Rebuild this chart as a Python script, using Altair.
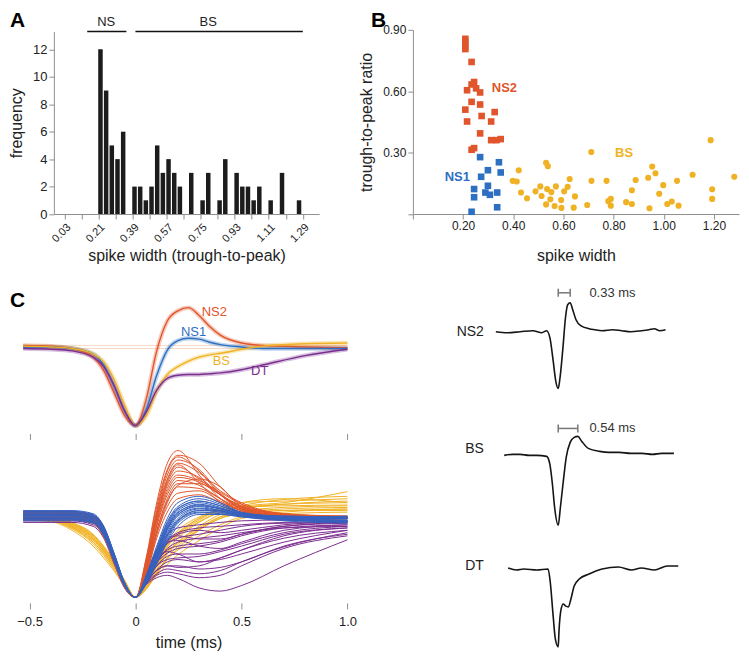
import altair as alt
import pandas as pd

FONT = "Liberation Sans"
CLASSES = ["NS2", "NS1", "BS", "DT"]
COLORS = ["#E0552B", "#2D6FC1", "#F0B225", "#7B2D90"]
TRACE_COLORS = {"NS2": "#E0552B", "NS1": "#3560BE", "BS": "#F0B225", "DT": "#7B2D90"}

# ---------------- Panel A : histogram ----------------
hist_width = [0.22, 0.25, 0.28, 0.31, 0.34, 0.40, 0.43, 0.46, 0.49, 0.52, 0.55, 0.58, 0.61, 0.64,
              0.70, 0.76, 0.79, 0.85, 0.88, 0.94, 0.97, 1.00, 1.03, 1.06, 1.12, 1.18, 1.27]
hist_count = [12, 9, 5, 4, 6, 2, 2, 1, 2, 5, 3, 4, 3, 2,
              3, 1, 3, 1, 4, 3, 2, 2, 1, 2, 1, 3, 1]
hist_ticks = [0.03, 0.12, 0.21, 0.30, 0.39, 0.48, 0.57, 0.66, 0.75, 0.84, 0.93, 1.02, 1.11, 1.20, 1.29]
freq_ticks = [0, 2, 4, 6, 8, 10, 12]
group_names = ["NS", "BS"]
group_start = [0.15, 0.405]
group_end = [0.357, 1.29]
group_mid = [0.25, 0.79]
group_level = [13.3, 13.3]

# ---------------- Panel B : scatter ----------------
ns2_w = [0.209, 0.209, 0.209, 0.209, 0.234, 0.216, 0.234, 0.244, 0.252, 0.268, 0.234, 0.268,
         0.209, 0.326, 0.216, 0.274, 0.312, 0.268, 0.312, 0.333, 0.350, 0.234, 0.244]
ns2_r = [0.856, 0.840, 0.820, 0.806, 0.743, 0.605, 0.633, 0.645, 0.614, 0.594, 0.548, 0.535,
         0.510, 0.498, 0.452, 0.479, 0.452, 0.394, 0.361, 0.361, 0.366, 0.314, 0.322]
ns1_w = [0.268, 0.343, 0.299, 0.350, 0.272, 0.244, 0.299, 0.289, 0.307, 0.336, 0.244, 0.336, 0.234]
ns1_r = [0.278, 0.253, 0.214, 0.203, 0.182, 0.122, 0.138, 0.105, 0.094, 0.105, 0.082, 0.033, 0.011]
bs_w = [0.711, 1.187, 0.531, 0.538, 0.422, 0.398, 0.414, 0.431, 0.455, 0.489, 0.508, 0.513, 0.535,
        0.531, 0.548, 0.552, 0.570, 0.565, 0.591, 0.592, 0.603, 0.617, 0.625, 0.646, 0.641, 0.695,
        0.712, 0.772, 0.779, 0.789, 0.789, 0.850, 0.873, 0.873, 0.888, 0.938, 0.954, 0.967, 0.943,
        0.982, 0.998, 1.014, 1.032, 1.053, 1.059, 1.115, 1.193, 1.193, 1.281]
bs_r = [0.303, 0.361, 0.250, 0.234, 0.214, 0.162, 0.159, 0.105, 0.077, 0.111, 0.135, 0.088, 0.122,
        0.047, 0.072, 0.107, 0.135, 0.039, 0.068, 0.030, 0.111, 0.133, 0.171, 0.086, 0.031, 0.044,
        0.162, 0.162, 0.063, 0.074, 0.041, 0.058, 0.049, 0.116, 0.166, 0.177, 0.232, 0.199, 0.028,
        0.099, 0.141, 0.049, 0.061, 0.162, 0.041, 0.192, 0.121, 0.074, 0.182]
b_label = ["NS2", "NS1", "BS"]
b_label_w = [0.365, 0.177, 0.842]
b_label_r = [0.614, 0.180, 0.298]
b_xticks = [0, 0.2, 0.4, 0.6, 0.8, 1.0, 1.2]
b_yticks = [0, 0.3, 0.6, 0.9]

# ---------------- Panel C : mean waveforms ----------------
mean_t = [-0.53, -0.4, -0.3, -0.2, -0.15, -0.1, -0.05, 0, 0.05, 0.1, 0.15, 0.2, 0.25, 0.3,
          0.35, 0.4, 0.5, 0.6, 0.8, 1.0]
mean_ns2 = [0.02, 0.01, -0.02, -0.13, -0.30, -0.59, -0.88, -1.0, -0.67, -0.05, 0.33, 0.46, 0.50, 0.40,
            0.26, 0.15, 0.05, 0.02, 0.0, -0.01]
mean_ns1 = [0.0, 0.0, -0.02, -0.09, -0.23, -0.50, -0.82, -1.0, -0.80, -0.36, -0.04, 0.08, 0.11, 0.10,
            0.06, 0.03, 0.0, -0.02, -0.02, -0.02]
mean_bs = [0.01, 0.0, -0.02, -0.09, -0.19, -0.42, -0.75, -1.0, -0.88, -0.56, -0.35, -0.25, -0.18, -0.13,
           -0.10, -0.08, -0.03, 0.01, 0.04, 0.05]
mean_dt = [-0.02, -0.03, -0.05, -0.13, -0.25, -0.50, -0.82, -1.0, -0.83, -0.55, -0.40, -0.36, -0.35, -0.35,
           -0.34, -0.33, -0.29, -0.23, -0.11, -0.03]
mean_label = ["NS2", "NS1", "BS", "DT"]
mean_label_t = [0.372, 0.274, 0.405, 0.586]
mean_label_v = [0.45, 0.19, -0.175, -0.31]
baseline_v = [0.02, -0.02]
baseline_t0 = [-0.53, -0.53]
baseline_t1 = [1.0, 1.0]
time_ticks = [-0.5, 0, 0.5, 1.0]

# ---------------- Panel C : individual waveforms ----------------
trace_t = [-0.53, -0.4, -0.3, -0.2, -0.15, -0.1, -0.05, 0, 0.05, 0.1, 0.15, 0.2, 0.3, 0.4, 0.5, 0.7, 1.0]
traces_ns2 = [
    [0.08, 0.08, 0.08, 0.02, -0.15, -0.5, -0.85, -1, -0.5, 0.2, 0.7, 0.86, 0.55, 0.25, 0.1, 0.02, 0.0],
    [0.05, 0.05, 0.05, 0.0, -0.18, -0.52, -0.86, -1, -0.55, 0.1, 0.6, 0.78, 0.6, 0.3, 0.12, 0.03, 0.02],
    [0.03, 0.03, 0.03, -0.03, -0.2, -0.55, -0.87, -1, -0.6, 0.0, 0.45, 0.65, 0.5, 0.3, 0.15, 0.05, 0.03],
    [0.0, 0.0, 0.0, -0.05, -0.22, -0.55, -0.88, -1, -0.62, -0.05, 0.38, 0.55, 0.48, 0.33, 0.18, 0.06, 0.02],
    [0.06, 0.06, 0.05, 0.0, -0.17, -0.5, -0.85, -1, -0.65, -0.1, 0.3, 0.48, 0.42, 0.25, 0.1, 0.03, 0.0],
    [0.02, 0.02, 0.02, -0.04, -0.2, -0.53, -0.87, -1, -0.68, -0.15, 0.22, 0.4, 0.38, 0.25, 0.12, 0.04, 0.02],
    [0.04, 0.04, 0.04, -0.02, -0.19, -0.52, -0.86, -1, -0.7, -0.2, 0.15, 0.32, 0.35, 0.22, 0.1, 0.02, -0.02],
    [-0.02, -0.02, -0.02, -0.06, -0.24, -0.56, -0.88, -1, -0.72, -0.25, 0.08, 0.25, 0.3, 0.2, 0.1, 0.02, 0.0],
    [0.03, 0.03, 0.03, -0.03, -0.2, -0.53, -0.87, -1, -0.7, -0.2, 0.2, 0.42, 0.5, 0.4, 0.15, 0.02, 0.0],
    [0.07, 0.07, 0.06, 0.01, -0.16, -0.5, -0.85, -1, -0.52, 0.15, 0.62, 0.8, 0.7, 0.4, 0.18, 0.05, 0.01],
    [0.01, 0.01, 0.01, -0.05, -0.21, -0.54, -0.87, -1, -0.58, 0.05, 0.5, 0.7, 0.58, 0.35, 0.2, 0.06, 0.03],
    [0.05, 0.05, 0.04, -0.01, -0.18, -0.52, -0.86, -1, -0.56, 0.08, 0.55, 0.74, 0.62, 0.32, 0.14, 0.04, 0.01],
    [0.02, 0.02, 0.02, -0.04, -0.21, -0.54, -0.87, -1, -0.63, -0.02, 0.42, 0.6, 0.52, 0.3, 0.13, 0.03, 0.0],
    [0.06, 0.06, 0.06, 0.0, -0.17, -0.51, -0.86, -1, -0.6, 0.02, 0.48, 0.68, 0.45, 0.2, 0.08, 0.02, 0.02],
    [0.0, 0.0, 0.0, -0.06, -0.23, -0.56, -0.88, -1, -0.66, -0.08, 0.34, 0.52, 0.46, 0.3, 0.16, 0.05, 0.01],
    [0.04, 0.04, 0.04, -0.01, -0.18, -0.52, -0.86, -1, -0.69, -0.16, 0.25, 0.44, 0.44, 0.3, 0.12, 0.03, 0.0],
]
traces_ns1 = [
    [0.1, 0.1, 0.1, 0.06, -0.1, -0.45, -0.82, -1, -0.72, -0.35, 0.0, 0.2, 0.28, 0.2, 0.08, 0.02, 0.0],
    [0.07, 0.07, 0.07, 0.03, -0.12, -0.47, -0.83, -1, -0.75, -0.4, -0.08, 0.12, 0.22, 0.16, 0.06, 0.0, -0.02],
    [0.04, 0.04, 0.04, 0.0, -0.15, -0.5, -0.84, -1, -0.78, -0.45, -0.12, 0.08, 0.17, 0.12, 0.05, 0.0, 0.0],
    [0.02, 0.02, 0.02, -0.02, -0.18, -0.52, -0.85, -1, -0.8, -0.5, -0.18, 0.03, 0.13, 0.1, 0.04, -0.01, -0.03],
    [0.0, 0.0, 0.0, -0.04, -0.2, -0.54, -0.86, -1, -0.82, -0.55, -0.25, -0.04, 0.1, 0.08, 0.03, -0.02, -0.04],
    [0.05, 0.05, 0.05, 0.01, -0.14, -0.49, -0.84, -1, -0.76, -0.42, -0.1, 0.1, 0.2, 0.14, 0.05, 0.01, 0.03],
    [-0.03, -0.03, -0.03, -0.06, -0.22, -0.55, -0.87, -1, -0.83, -0.58, -0.3, -0.1, 0.05, 0.05, 0.02, -0.03, -0.06],
    [0.08, 0.08, 0.08, 0.04, -0.11, -0.46, -0.83, -1, -0.73, -0.38, -0.04, 0.15, 0.25, 0.18, 0.07, 0.01, 0.01],
    [0.03, 0.03, 0.03, -0.01, -0.16, -0.51, -0.85, -1, -0.79, -0.48, -0.15, 0.05, 0.15, 0.1, 0.04, 0.02, 0.0],
    [-0.01, -0.01, -0.01, -0.05, -0.21, -0.54, -0.86, -1, -0.81, -0.52, -0.22, -0.02, 0.1, 0.1, 0.05, -0.01, -0.05],
    [0.06, 0.06, 0.06, 0.02, -0.13, -0.48, -0.84, -1, -0.77, -0.44, -0.12, 0.07, 0.18, 0.13, 0.06, 0.03, 0.02],
    [0.01, 0.01, 0.01, -0.03, -0.18, -0.52, -0.85, -1, -0.8, -0.5, -0.2, 0.0, 0.12, 0.09, 0.04, 0.0, -0.02],
    [0.09, 0.09, 0.09, 0.05, -0.1, -0.45, -0.82, -1, -0.74, -0.4, -0.06, 0.13, 0.22, 0.16, 0.07, 0.03, 0.02],
    [-0.02, -0.02, -0.02, -0.05, -0.2, -0.54, -0.86, -1, -0.82, -0.56, -0.28, -0.06, 0.07, 0.07, 0.03, -0.02, -0.04],
    [0.04, 0.04, 0.04, 0.0, -0.15, -0.5, -0.84, -1, -0.78, -0.46, -0.14, 0.05, 0.16, 0.12, 0.06, 0.02, 0.01],
    [0.0, 0.0, 0.0, -0.04, -0.19, -0.53, -0.86, -1, -0.8, -0.52, -0.22, -0.03, 0.08, 0.06, 0.02, -0.01, -0.03],
]
traces_bs = [
    [0.02, 0.0, -0.1, -0.28, -0.42, -0.6, -0.82, -1, -0.85, -0.6, -0.4, -0.25, -0.05, 0.08, 0.15, 0.2, 0.34],
    [0.0, -0.02, -0.12, -0.3, -0.45, -0.63, -0.84, -1, -0.88, -0.65, -0.45, -0.3, -0.1, 0.05, 0.12, 0.18, 0.22],
    [0.04, 0.02, -0.08, -0.25, -0.4, -0.58, -0.8, -1, -0.82, -0.55, -0.32, -0.18, 0.0, 0.1, 0.14, 0.16, 0.17],
    [-0.02, -0.04, -0.15, -0.35, -0.5, -0.67, -0.86, -1, -0.9, -0.7, -0.52, -0.38, -0.15, 0.0, 0.08, 0.12, 0.14],
    [0.03, 0.02, -0.06, -0.22, -0.36, -0.55, -0.8, -1, -0.85, -0.6, -0.42, -0.3, -0.12, 0.02, 0.07, 0.1, 0.1],
    [0.01, -0.01, -0.1, -0.27, -0.42, -0.6, -0.82, -1, -0.87, -0.68, -0.5, -0.4, -0.22, -0.08, 0.02, 0.08, 0.12],
    [0.05, 0.03, -0.05, -0.2, -0.35, -0.55, -0.79, -1, -0.8, -0.5, -0.3, -0.15, 0.02, 0.12, 0.2, 0.25, 0.2],
    [0.0, -0.02, -0.11, -0.3, -0.44, -0.62, -0.83, -1, -0.88, -0.72, -0.58, -0.46, -0.28, -0.12, 0.0, 0.06, 0.08],
    [0.02, 0.0, -0.09, -0.26, -0.41, -0.6, -0.82, -1, -0.84, -0.58, -0.36, -0.2, 0.0, 0.12, 0.2, 0.22, 0.25],
    [0.03, 0.01, -0.07, -0.23, -0.38, -0.57, -0.8, -1, -0.83, -0.57, -0.35, -0.22, -0.04, 0.08, 0.16, 0.24, 0.28],
    [-0.01, -0.03, -0.13, -0.32, -0.47, -0.65, -0.85, -1, -0.89, -0.7, -0.5, -0.35, -0.14, 0.02, 0.09, 0.14, 0.16],
    [0.02, 0.0, -0.08, -0.24, -0.39, -0.58, -0.81, -1, -0.84, -0.62, -0.44, -0.32, -0.14, 0.0, 0.06, 0.1, 0.12],
    [0.04, 0.02, -0.06, -0.21, -0.37, -0.56, -0.8, -1, -0.82, -0.56, -0.33, -0.2, -0.02, 0.1, 0.14, 0.18, 0.2],
]
traces_dt = [
    [0.08, 0.08, 0.08, 0.03, -0.12, -0.47, -0.83, -1, -0.7, -0.4, -0.2, -0.12, -0.08, -0.05, -0.03, -0.02, -0.03],
    [0.05, 0.05, 0.05, 0.0, -0.15, -0.5, -0.85, -1, -0.75, -0.5, -0.32, -0.25, -0.2, -0.15, -0.1, -0.06, -0.05],
    [0.02, 0.02, 0.02, -0.03, -0.18, -0.52, -0.86, -1, -0.78, -0.55, -0.4, -0.35, -0.32, -0.28, -0.2, -0.1, -0.06],
    [0.0, 0.0, 0.0, -0.05, -0.2, -0.54, -0.87, -1, -0.8, -0.6, -0.48, -0.45, -0.45, -0.4, -0.32, -0.18, -0.1],
    [-0.03, -0.03, -0.03, -0.08, -0.22, -0.56, -0.88, -1, -0.82, -0.65, -0.55, -0.52, -0.55, -0.52, -0.45, -0.3, -0.15],
    [0.06, 0.06, 0.06, 0.02, -0.14, -0.48, -0.84, -1, -0.8, -0.66, -0.6, -0.6, -0.64, -0.62, -0.55, -0.35, -0.2],
    [0.03, 0.03, 0.03, -0.02, -0.17, -0.51, -0.85, -1, -0.83, -0.72, -0.68, -0.7, -0.75, -0.72, -0.6, -0.38, -0.22],
    [-0.05, -0.05, -0.05, -0.1, -0.25, -0.58, -0.89, -1, -0.84, -0.75, -0.72, -0.76, -0.88, -0.92, -0.85, -0.6, -0.27],
    [0.04, 0.04, 0.04, -0.01, -0.16, -0.5, -0.85, -1, -0.72, -0.45, -0.3, -0.28, -0.35, -0.38, -0.3, -0.15, -0.08],
    [0.01, 0.01, 0.01, -0.04, -0.19, -0.53, -0.86, -1, -0.76, -0.52, -0.42, -0.45, -0.55, -0.5, -0.4, -0.22, -0.12],
    [0.07, 0.07, 0.07, 0.02, -0.13, -0.48, -0.84, -1, -0.74, -0.48, -0.3, -0.2, -0.15, -0.18, -0.15, -0.08, -0.04],
    [0.06, 0.06, 0.06, 0.01, -0.14, -0.49, -0.84, -1, -0.73, -0.46, -0.28, -0.18, -0.12, -0.1, -0.08, -0.05, -0.04],
    [0.09, 0.09, 0.09, 0.04, -0.11, -0.46, -0.83, -1, -0.77, -0.56, -0.44, -0.38, -0.35, -0.3, -0.22, -0.12, -0.08],
    [-0.01, -0.01, -0.01, -0.06, -0.21, -0.55, -0.87, -1, -0.79, -0.6, -0.52, -0.5, -0.48, -0.42, -0.35, -0.2, -0.12],
    [0.03, 0.03, 0.03, -0.02, -0.17, -0.51, -0.85, -1, -0.81, -0.66, -0.6, -0.62, -0.6, -0.5, -0.4, -0.25, -0.15],
    [0.05, 0.05, 0.05, 0.0, -0.15, -0.5, -0.85, -1, -0.76, -0.55, -0.38, -0.3, -0.25, -0.22, -0.18, -0.12, -0.1],
    [0.02, 0.02, 0.02, -0.03, -0.18, -0.52, -0.86, -1, -0.82, -0.7, -0.64, -0.66, -0.7, -0.66, -0.55, -0.36, -0.18],
    [0.07, 0.07, 0.07, 0.02, -0.13, -0.48, -0.84, -1, -0.72, -0.44, -0.26, -0.22, -0.26, -0.26, -0.2, -0.1, -0.05],
]

# ---------------- Panel C : example units ----------------
ex_ns2_t = [-1.72, -1.4, -1.05, -0.7, -0.45, -0.32, -0.23, -0.14, -0.07, 0, 0.05, 0.13, 0.2, 0.26, 0.33,
            0.4, 0.49, 0.62, 0.85, 1.0, 1.21, 1.5, 1.75, 2.0, 2.29, 2.5, 2.65, 2.8, 2.96]
ex_ns2_v = [0, -1, 0, 1, -1, 1, -6, -29, -49, -57, -46, -16, 14, 27, 29,
            22, 12, 6, 3, 2, 1, 2, 1, 0, 1, 2, 3, 1, 2]
ex_bs_t = [-1.49, -1.25, -1.05, -0.8, -0.59, -0.32, -0.23, -0.16, -0.1, 0, 0.06, 0.14, 0.22, 0.33, 0.44,
           0.54, 0.65, 0.83, 1.14, 1.4, 1.68, 2.0, 2.31, 2.6, 2.85, 3.19]
ex_bs_v = [-1, 0, 0, -1, -1, -2, -10, -30, -53, -71, -53, -27, -3, 12, 17,
           18, 13, 6, 3, 2, 2, 1, 1, 0, 1, 1]
ex_dt_t = [-1.38, -1.15, -0.95, -0.59, -0.28, -0.22, -0.14, -0.08, 0, 0.02, 0.08, 0.14, 0.2, 0.28, 0.35,
           0.44, 0.58, 0.85, 1.21, 1.66, 2.02, 2.29, 2.65, 3.01, 3.31]
ex_dt_v = [1, -1, 0, -1, 0, -13, -47, -70, -78, -63, -40, -35, -37, -38, -30,
           -17, -10, -5, 0, 2, -1, 1, -1, 3, 3]
ex_names = ["NS2", "BS", "DT"]
ex_name_v = [0, 5, 3]
ex_bar_ms = [0.33, 0.54]
ex_bar_v = [39, 26]
ex_bar_text = ["0.33 ms", "0.54 ms"]

# ================= layout (pixel ranges of each panel inside one canvas) =================
W, H = 733, 648
colC = alt.Color("cls:N", scale=alt.Scale(domain=CLASSES, range=COLORS), legend=None)


def letter(txt, px, py):
    return alt.Chart(pd.DataFrame({"L": [txt]})).mark_text(
        fontSize=21, fontWeight="bold", align="left", baseline="alphabetic", color="#000"
    ).encode(text="L:N", x=alt.value(px), y=alt.value(py))


# ================= Panel A =================
scA_x = alt.Scale(domain=[0, 1.35], range=[44, 310], nice=False, zero=False)
scA_y = alt.Scale(domain=[0, 13.3], range=[205.7, 22.7], nice=False, zero=False)
axA_x = alt.Axis(values=hist_ticks, format=".2f", labelAngle=-45, labelFontSize=11, orient="bottom",
                 offset=-(H - 205.7), title="spike width (trough-to-peak)", titlePadding=4)
axA_y = alt.Axis(values=freq_ticks, labelFontSize=13, orient="left", offset=-44,
                 title="frequency", titlePadding=8)
xA = lambda f: alt.X(f, scale=scA_x, axis=axA_x)
yA = lambda f: alt.Y(f, scale=scA_y, axis=axA_y)

dfA = pd.DataFrame({"w": hist_width, "n": hist_count})
barsA = alt.Chart(dfA).mark_bar(size=4.5, color="#1c1c1c").encode(x=xA("w:Q"), y=yA("n:Q"))
dfG = pd.DataFrame({"g": group_names, "w": group_start, "w2": group_end, "m": group_mid, "n": group_level})
rulesA = alt.Chart(dfG).mark_rule(color="#111", strokeWidth=1.4).encode(x=xA("w:Q"), x2="w2:Q", y=yA("n:Q"))
textA = alt.Chart(dfG).mark_text(fontSize=13, baseline="bottom", dy=-3, color="#222").encode(
    x=xA("m:Q"), y=yA("n:Q"), text="g:N")
panelA = alt.layer(barsA, rulesA, textA)

# ================= Panel B =================
dfB = pd.concat([
    pd.DataFrame({"w": ns2_w, "r": ns2_r, "cls": "NS2"}),
    pd.DataFrame({"w": ns1_w, "r": ns1_r, "cls": "NS1"}),
    pd.DataFrame({"w": bs_w, "r": bs_r, "cls": "BS"}),
])
scB_x = alt.Scale(domain=[0, 1.3], range=[404, 731], nice=False, zero=False)
scB_y = alt.Scale(domain=[0, 0.9], range=[205.7, 21], nice=False, zero=False)
axB_x = alt.Axis(values=b_xticks, labelExpr="datum.value == 0 ? '' : format(datum.value, '.2f')",
                 labelFontSize=12, orient="bottom", offset=-(H - 205.7), title="spike width", titlePadding=16)
axB_y = alt.Axis(values=b_yticks, labelExpr="datum.value == 0 ? '' : format(datum.value, '.2f')",
                 labelFontSize=12, orient="left", offset=-404, title="trough-to-peak ratio", titlePadding=8)
xB = lambda f: alt.X(f, scale=scB_x, axis=axB_x)
yB = lambda f: alt.Y(f, scale=scB_y, axis=axB_y)
sq = alt.Chart(dfB).transform_filter("datum.cls != 'BS'").mark_square(size=44, opacity=1).encode(
    x=xB("w:Q"), y=yB("r:Q"), color=colC)
ci = alt.Chart(dfB).transform_filter("datum.cls == 'BS'").mark_circle(size=38, opacity=1).encode(
    x=xB("w:Q"), y=yB("r:Q"), color=colC)
dfBL = pd.DataFrame({"cls": b_label, "w": b_label_w, "r": b_label_r})
lblB = alt.Chart(dfBL).mark_text(fontSize=13, fontWeight="bold").encode(
    x=xB("w:Q"), y=yB("r:Q"), text="cls:N", color=colC)
panelB = alt.layer(ci, sq, lblB)

# ================= Panel C top (means) =================
scCt_x = alt.Scale(domain=[-0.55, 1.05], range=[9, 349], nice=False, zero=False)
scCt_y = alt.Scale(domain=[-1.1, 0.6], range=[425.7, 291.7], nice=False, zero=False)
axCt_x = alt.Axis(values=time_ticks, labels=False, domain=False, ticks=True, tickSize=6, title=None,
                  orient="bottom", offset=-(H - 425.7))
xCt = lambda f: alt.X(f, scale=scCt_x, axis=axCt_x)
yCt = lambda f: alt.Y(f, scale=scCt_y, axis=None)

dfM = pd.concat([
    pd.DataFrame({"t": mean_t, "v": mean_ns2, "cls": "NS2"}),
    pd.DataFrame({"t": mean_t, "v": mean_ns1, "cls": "NS1"}),
    pd.DataFrame({"t": mean_t, "v": mean_bs, "cls": "BS"}),
    pd.DataFrame({"t": mean_t, "v": mean_dt, "cls": "DT"}),
])
dfBase = pd.DataFrame({"t": baseline_t0, "t2": baseline_t1, "v": baseline_v})
base_lines = alt.Chart(dfBase).mark_rule(color="#f6d9c8", strokeWidth=1).encode(
    x=xCt("t:Q"), x2="t2:Q", y=yCt("v:Q"))
shade = alt.Chart(dfM).mark_line(strokeWidth=4.5, opacity=0.3, interpolate="monotone").encode(
    x=xCt("t:Q"), y=yCt("v:Q"), color=colC, detail="cls:N")
means = alt.Chart(dfM).mark_line(strokeWidth=1.4, interpolate="monotone").encode(
    x=xCt("t:Q"), y=yCt("v:Q"), color=colC, detail="cls:N")
dfML = pd.DataFrame({"cls": mean_label, "t": mean_label_t, "v": mean_label_v})
lblC = alt.Chart(dfML).mark_text(fontSize=13).encode(x=xCt("t:Q"), y=yCt("v:Q"), text="cls:N", color=colC)
panelCt = alt.layer(base_lines, shade, means, lblC)

# ================= Panel C bottom (all units) =================
scCb_x = alt.Scale(domain=[-0.55, 1.05], range=[9, 349], nice=False, zero=False)
scCb_y = alt.Scale(domain=[-1.07, 0.9], range=[595.7, 439.7], nice=False, zero=False)
axCb_x = alt.Axis(values=time_ticks, domain=False, ticks=True, tickSize=6, labelFontSize=13, labelPadding=7,
                  labelExpr="datum.value == 0 ? '0' : format(datum.value, '.1f')",
                  title="time (ms)", titleFontSize=16, titlePadding=6, orient="bottom", offset=-(H - 595.7))


def long_traces(traces, cls):
    rows = []
    for i, vals in enumerate(traces):
        for t, v in zip(trace_t, vals):
            rows.append({"t": t, "v": v, "id": f"{cls}{i}"})
    return pd.DataFrame(rows)


trace_layers = []
for traces, cls in [(traces_bs, "BS"), (traces_dt, "DT"), (traces_ns2, "NS2"), (traces_ns1, "NS1")]:
    trace_layers.append(
        alt.Chart(long_traces(traces, cls)).mark_line(
            strokeWidth=1, interpolate="monotone", color=TRACE_COLORS[cls]).encode(
            x=alt.X("t:Q", scale=scCb_x, axis=axCb_x), y=alt.Y("v:Q", scale=scCb_y, axis=None),
            detail="id:N"))
panelCb = alt.layer(*trace_layers)


# ================= Panel C right (example units) =================
def example(t, v, name, name_v, yrange, ydomain, bar=None, bar_v=None, bar_txt=None):
    sx = alt.Scale(domain=[-2, 3.5], range=[477, 677], nice=False, zero=False)
    sy = alt.Scale(domain=ydomain, range=yrange, nice=False, zero=False)
    xr = lambda f: alt.X(f, scale=sx, axis=None)
    yr = lambda f: alt.Y(f, scale=sy, axis=None)
    layers = [
        alt.Chart(pd.DataFrame({"t": t, "v": v})).mark_line(
            color="#151515", strokeWidth=1.6, interpolate="monotone").encode(x=xr("t:Q"), y=yr("v:Q")),
        alt.Chart(pd.DataFrame({"name": [name], "t": [-2.05], "v": [name_v]})).mark_text(
            fontSize=14, align="right", baseline="middle", color="#222").encode(
            x=xr("t:Q"), y=yr("v:Q"), text="name:N"),
    ]
    if bar is not None:
        dbar = pd.DataFrame({"t": [0.0], "t2": [bar], "v": [bar_v]})
        layers.append(alt.Chart(dbar).mark_rule(color="#777", strokeWidth=1.5).encode(
            x=xr("t:Q"), x2="t2:Q", y=yr("v:Q")))
        dcap = pd.DataFrame({"t": [0.0, bar], "v": [bar_v - 4, bar_v - 4], "v2": [bar_v + 4, bar_v + 4]})
        layers.append(alt.Chart(dcap).mark_rule(color="#777", strokeWidth=1.5).encode(
            x=xr("t:Q"), y=yr("v:Q"), y2="v2:Q"))
        dtx = pd.DataFrame({"t": [0.86], "v": [bar_v], "s": [bar_txt]})
        layers.append(alt.Chart(dtx).mark_text(fontSize=13, align="left", baseline="middle", color="#333").encode(
            x=xr("t:Q"), y=yr("v:Q"), text="s:N"))
    return alt.layer(*layers)


ex1 = example(ex_ns2_t, ex_ns2_v, ex_names[0], ex_name_v[0], [383.7, 291.7], [-60, 32],
              ex_bar_ms[0], ex_bar_v[0], ex_bar_text[0])
ex2 = example(ex_bs_t, ex_bs_v, ex_names[1], ex_name_v[1], [522.7, 406.7], [-76, 40],
              ex_bar_ms[1], ex_bar_v[1], ex_bar_text[1])
ex3 = example(ex_dt_t, ex_dt_v, ex_names[2], ex_name_v[2], [641.7, 543.7], [-80, 18])

chart = alt.layer(
    panelA, panelB, panelCt, panelCb, ex1, ex2, ex3,
    letter("A", 0, 18), letter("B", 362, 18), letter("C", 0, 298.7),
).resolve_scale(x="independent", y="independent").resolve_axis(
    x="independent", y="independent"
).properties(
    width=W, height=H, padding={"left": 0, "top": 0, "right": 0, "bottom": 0}
).configure(font=FONT).configure_view(stroke=None).configure_axis(
    domainColor="#8f8f8f", tickColor="#8f8f8f", labelColor="#222", titleColor="#222",
    grid=False, labelFont=FONT, titleFont=FONT, titleFontWeight="normal", titleFontSize=16, tickSize=5
).configure_text(font=FONT)

chart.save("out.html", embed_options={"renderer": "svg", "actions": False})
